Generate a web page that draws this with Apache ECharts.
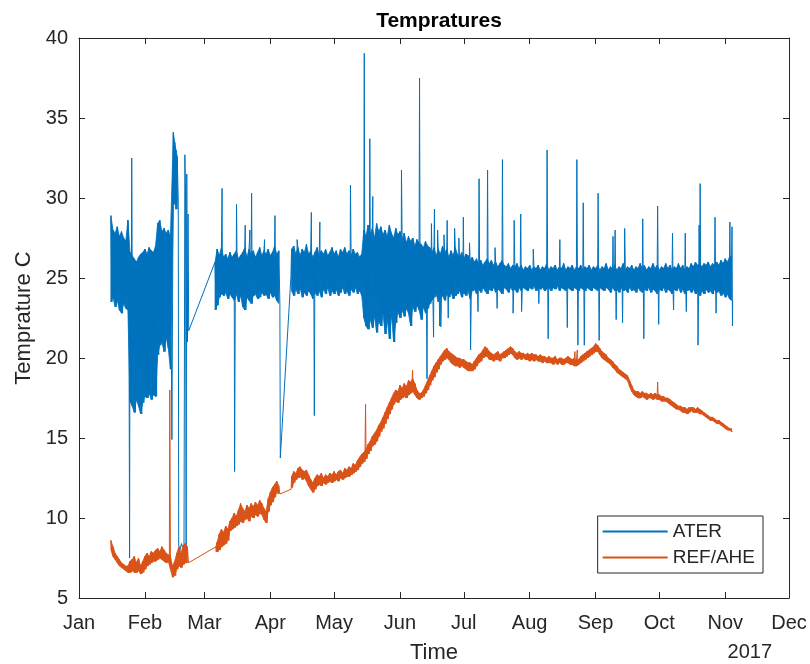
<!DOCTYPE html>
<html>
<head>
<meta charset="utf-8">
<script src="https://cdn.jsdelivr.net/npm/echarts@6/dist/echarts.min.js"></script>
<style>
html,body{margin:0;padding:0;background:#fff;}
#chart{width:810px;height:664px;}
</style>
</head>
<body>
<div id="chart"></div>
<script>
// ---- data (day of year 2017, 0 = Jan 1) ----
const monthNames = ['Jan','Feb','Mar','Apr','May','Jun','Jul','Aug','Sep','Oct','Nov','Dec'];
const yTicks = [5,10,15,20,25,30,35,40];
const seriesNames = ['ATER','REF/AHE'];

// ATER: [day, high, low] envelope readings of the noisy trace
const aterBand = [
[15,28.9,23.5],[16,28.0,23.8],[17,27.8,23.2],[18,28.2,23.6],[19,27.6,23.0],[20,27.9,22.8],[21,27.5,23.4],[22,27.3,23.1],[23,28.6,23.0],
[24,26.6,17.3],[25,26.4,17.0],[26,26.2,16.6],[27,26.0,17.4],[28,26.3,17.0],[29,26.5,16.5],[30,26.6,17.2],[31,26.8,17.6],[32,26.5,17.5],[33,26.9,17.8],[34,26.7,17.4],[35,26.6,17.7],[36,27.0,17.6],
[37,28.4,20.2],[38,28.6,20.8],[39,27.9,21.0],[40,28.1,20.4],[41,27.8,21.3],[42,28.0,20.6],[43,27.6,19.3],
[44.4,34.1,29.6],[45.0,33.5,30.0],[45.6,33.0,29.3],[46.2,32.6,29.8],
[64,26.0,23.0],[65,26.8,23.3],[66,26.4,23.8],[67,26.9,24.0],[68,26.3,23.9],[69,26.5,24.1],[70,26.2,23.7],[71,26.6,24.0],[72,26.3,23.8],[73,26.5,23.6],
[74,26.7,24.0],[75,26.2,23.5],[76,26.4,23.9],[77,26.6,23.2],[78,26.9,23.0],[79,26.3,23.8],[80,26.8,23.6],[81,26.5,23.4],[82,26.7,23.9],[83,26.3,24.0],
[84,26.6,23.7],[85,26.9,23.8],[86,26.4,24.1],[87,26.7,23.9],[88,26.5,24.0],[89,26.8,23.7],[90,26.4,24.1],[91,26.6,23.8],[92,27.0,23.9],[93,26.5,23.6],[94,26.7,23.4],
[100,26.8,24.2],[101,27.0,23.9],[102,26.5,24.3],[103,26.9,24.0],[104,26.4,24.4],[105,26.8,23.8],[106,26.6,24.1],[107,27.1,23.9],[108,26.5,24.2],[109,26.7,24.0],
[110,26.3,23.7],[111,26.6,24.1],[112,26.9,23.9],[113,26.4,24.2],[114,26.7,23.8],[115,26.5,24.3],[116,26.8,24.0],[117,26.4,24.4],[118,26.6,23.9],[119,26.9,24.2],
[120,26.5,24.0],[121,26.7,24.3],[122,26.3,23.9],[123,26.8,24.1],[124,26.6,24.4],[125,26.9,24.0],[126,26.5,24.2],[127,26.7,23.9],[128,26.4,24.3],[129,26.8,24.1],
[130,26.5,24.4],[131,26.6,24.0],[132,26.3,24.2],[133,26.5,23.9],
[134,28.0,22.5],[135,27.6,22.0],[136,28.3,21.8],[137,27.8,22.4],[138,28.1,21.9],[139,27.5,22.6],[140,28.4,21.6],[141,27.9,22.3],[142,28.2,22.0],[143,27.7,22.8],
[144,28.0,21.5],[145,27.6,22.4],[146,28.3,21.2],[147,27.8,22.7],[148,27.5,21.0],[149,28.1,22.2],[150,27.7,22.9],[151,27.9,22.5],[152,27.4,23.0],[153,27.8,22.6],
[154,27.2,23.1],[155,27.6,22.8],[156,27.3,22.0],[157,27.5,23.2],[158,27.0,22.9],[159,27.4,23.3],[160,27.2,23.0],[161,27.1,22.4],[162,26.9,23.2],[163,27.3,22.8],
[164,27.0,23.1],[165,26.9,23.4],
[166,26.6,23.6],[167,26.9,23.8],[168,26.4,24.0],[169,26.8,23.5],[170,26.5,23.7],[171,27.0,23.9],[172,26.6,23.6],[173,26.8,24.0],[174,26.3,23.8],[175,26.7,24.1],
[176,26.4,23.7],[177,26.9,23.9],[178,26.5,24.0],[179,26.3,24.2],[180,26.6,23.8],[181,26.2,24.1],[182,26.5,23.9],[183,26.4,24.2],[184,26.1,23.7],[185,26.3,24.2],
[186,26.0,24.3],[187,26.2,24.0],[188,25.9,24.3],[189,26.1,24.1],[190,25.8,24.4],[191,26.0,24.2],[192,26.2,24.0],[193,25.9,24.3],[194,26.1,24.2],[195,25.8,24.4],
[196,26.0,24.1],[197,25.7,24.3],[198,25.9,24.2],[199,26.1,24.0],[200,25.8,24.4],[201,25.7,24.3],[202,25.9,24.1],[203,25.6,24.4],[204,25.8,24.2],[205,25.7,24.3],
[206,25.9,24.1],[207,25.6,24.4],[208,25.8,24.2],[209,25.5,24.4],[210,25.7,24.3],[211,25.6,24.2],[212,25.8,24.4],[213,25.5,24.3],[214,25.7,24.5],[215,25.6,24.2],
[216,25.8,24.4],[217,25.5,24.3],[218,25.7,24.4],[219,25.6,24.2],[220,25.9,24.3],[221,25.5,24.4],[222,25.7,24.2],[223,25.6,24.4],[224,25.8,24.3],[225,25.5,24.5],
[226,25.7,24.2],[227,25.6,24.4],[228,25.9,24.3],[229,25.5,24.2],[230,25.7,24.4],[231,25.6,24.3],[232,25.8,24.2],[233,25.5,24.4],[234,25.7,24.3],[235,25.6,24.2],
[236,25.8,24.4],[237,25.5,24.3],[238,25.7,24.2],[239,25.6,24.4],[240,25.8,24.3],[241,25.5,24.2],[242,25.7,24.4],[243,25.6,24.3],[244,25.8,24.2],[245,25.5,24.4],
[246,25.7,24.3],[247,25.6,24.2],[248,25.9,24.4],[249,25.5,24.3],[250,25.7,24.1],[251,25.6,24.4],[252,25.8,24.2],[253,25.5,24.3],[254,25.7,24.1],[255,25.6,24.4],
[256,25.9,24.2],[257,25.5,24.3],[258,25.7,24.1],[259,25.6,24.4],[260,25.8,24.2],[261,25.5,24.3],[262,25.7,24.1],[263,25.6,24.4],[264,25.9,24.2],[265,25.6,24.1],
[266,25.8,24.3],[267,25.5,24.2],[268,25.7,24.4],[269,25.6,24.1],[270,25.9,24.3],[271,25.6,24.2],[272,25.8,24.0],[273,25.5,24.3],[274,25.7,24.2],[275,25.6,24.4],
[276,25.9,24.1],[277,25.6,24.3],[278,25.8,24.2],[279,25.5,24.0],[280,25.7,24.3],[281,25.6,24.2],[282,25.9,24.4],[283,25.6,24.1],[284,25.8,24.3],[285,25.5,24.0],
[286,25.7,24.2],[287,25.6,24.3],[288,25.9,24.1],[289,25.7,24.3],[290,26.0,24.0],[291,25.8,24.2],[292,25.9,23.9],[293,25.7,24.2],[294,25.9,24.0],[295,25.8,24.3],
[296,26.0,24.1],[297,25.7,24.2],[298,25.9,24.0],[299,25.8,24.3],[300,26.0,24.1],[301,25.8,24.2],[302,26.1,23.9],[303,25.9,24.1],[304,26.2,23.8],[305,26.0,24.0],
[306,26.3,23.7],[307,26.4,23.6]
];
// ATER: single readings (spikes, drops, gap ends) [day, value]
const aterPoints = [
[23.8,7.5],[24.8,32.5],[43.7,14.9],
[46.9,8.3],[47.5,8.0],[48.2,8.4],[48.8,8.1],[49.4,8.3],[49.8,32.7],[50.1,30.5],[50.4,8.2],[50.7,31.5],[51.0,21.0],[51.3,29.0],[51.6,21.7],
[67.3,30.6],[73.2,12.9],[74.1,29.6],[78.2,28.3],[80.4,28.0],[81.2,30.3],[87.3,27.4],[92.2,28.9],
[94.7,13.75],[99.7,25.1],
[102.6,27.4],[109.3,29.1],[110.7,16.4],[113.3,28.5],[127.7,30.8],
[134.2,39.05],[136.8,33.7],[138.2,30.1],[151.7,31.75],[160.2,37.5],[163.7,18.7],
[165.8,28.4],[166.8,21.3],[167.2,29.3],[168.7,28.0],[169.7,22.0],[170.2,21.95],[171.7,27.7],[173.2,28.6],[173.7,22.5],[176.7,28.1],[178.7,27.5],[180.8,28.8],
[183.7,27.2],[184.2,20.5],[187.7,22.9],[188.2,31.2],[192.2,31.75],[195.7,26.9],[196.7,23.1],[199.2,32.4],[204.2,22.8],[204.7,28.6],[207.8,29.0],[208.2,22.9],
[213.7,26.8],[216.3,23.4],[220.2,33.0],[220.7,21.2],[226.2,27.4],[229.7,21.9],[234.2,32.4],[234.7,20.8],[237.2,29.7],[237.7,20.8],[244.2,30.3],[244.7,21.1],
[251.2,27.6],[252.2,28.0],[252.7,22.4],[255.7,22.2],[256.7,28.1],[265.2,28.7],[265.7,21.2],[272.2,29.5],[272.7,22.1],[279.2,27.8],[279.7,23.0],[285.2,27.8],
[285.7,22.9],[291.2,20.8],[291.7,28.3],[292.2,30.9],[299.2,28.8],[299.7,22.8],[306.2,28.5],[307.2,28.2],[307.4,22.0]
];

// REF/AHE: [day, high, low]
const refBand = [
[15,8.6,8.0],[16,8.2,7.6],[17,7.8,7.4],[18,7.6,7.2],[19,7.4,7.0],[20,7.2,6.9],[21,7.1,6.8],[22,7.0,6.7],[23,7.0,6.6],[24,7.3,6.6],
[25,7.4,6.7],[26,7.6,6.6],[27,7.2,6.6],[28,7.5,6.7],[29,7.0,6.5],[30,7.3,6.6],[31,7.6,6.8],[32,7.8,7.0],[33,7.6,7.1],[34,7.9,7.2],
[35,7.8,7.3],[36,8.0,7.3],[37,8.1,7.4],[38,7.9,7.5],[39,8.2,7.4],[40,8.0,7.3],[41,7.8,7.2],[42,7.7,7.3],[43,7.6,6.8],[44,7.0,6.3],
[45,7.3,6.4],[46,7.8,6.8],[47,8.2,7.0],[48,7.8,6.9],[49,8.3,7.1],[50,8.4,7.2],[51,8.2,7.2],
[64.4,8.2,7.9],[65,8.5,7.9],[66,9.0,8.0],[67,9.3,8.2],[68,9.1,8.3],[69,9.5,8.4],[70,9.3,8.6],
[71,9.8,9.2],[72,10.0,9.3],[73,10.3,9.4],[74,10.1,9.5],[75,10.5,9.6],[76,10.9,9.8],[77,10.6,9.7],[78,10.4,9.9],[79,10.8,10.0],[80,10.6,9.8],
[81,10.9,10.1],[82,10.7,10.0],[83,11.0,10.2],[84,10.8,10.1],[85,11.1,10.3],[86,10.9,10.2],[87,10.6,9.9],[88,10.4,9.7],[89,11.2,10.4],[90,11.6,10.8],
[91,11.9,11.0],[92,12.1,11.3],[93,12.3,11.6],[94,12.0,11.5],
[100,12.6,11.9],[101,12.9,12.2],[102,12.8,12.4],[103,13.1,12.5],[104,13.2,12.6],[105,13.0,12.4],[106,12.9,12.5],[107,13.0,12.3],[108,12.7,12.0],[109,12.4,11.8],
[110,12.2,11.6],[111,12.5,11.8],[112,12.7,12.0],[113,12.6,12.1],[114,12.8,12.0],[115,12.5,12.2],[116,12.7,12.1],[117,12.6,12.2],[118,12.8,12.3],[119,12.7,12.2],
[120,12.9,12.3],[121,12.7,12.4],[122,12.9,12.3],[123,13.0,12.5],[124,12.8,12.4],[125,13.1,12.5],[126,13.0,12.6],[127,13.2,12.6],[128,13.1,12.7],[129,13.4,12.8],
[130,13.3,12.9],[131,13.6,13.0],[132,13.8,13.2],[133,14.0,13.4],[134,14.1,13.5],[135,14.3,13.7],[136,14.6,14.0],[137,14.8,14.2],[138,15.1,14.5],[139,15.3,14.6],
[140,15.5,14.8],[141,15.8,15.1],[142,16.0,15.4],[143,16.3,15.6],[144,16.6,15.9],[145,16.9,16.2],[146,17.2,16.5],[147,17.5,16.8],[148,17.8,17.1],[149,18.0,17.3],
[150,17.9,17.2],[151,18.3,17.4],[152,18.1,17.5],[153,18.4,17.6],[154,18.2,17.5],[155,18.6,17.7],[156,18.5,17.8],[157,18.7,17.9],[158,18.4,17.7],[159,18.0,17.5],
[160,17.8,17.4],[161,17.8,17.5],[162,18.0,17.6],[163,18.3,17.8],[164,18.6,18.0],[165,18.9,18.3],[166,19.2,18.6],[167,19.5,18.8],[168,19.7,19.1],[169,19.9,19.3],
[170,20.1,19.6],[171,20.3,19.8],[172,20.5,19.9],[173,20.6,20.0],[174,20.4,19.9],[175,20.3,19.7],[176,20.2,19.6],[177,20.1,19.5],[178,20.0,19.5],[179,20.0,19.4],
[180,19.9,19.5],[181,19.9,19.4],[182,19.8,19.3],[183,19.7,19.2],[184,19.7,19.2],[185,19.6,19.2],[186,19.8,19.3],[187,20.0,19.5],[188,20.2,19.7],[189,20.3,19.8],
[190,20.5,20.0],[191,20.7,20.1],[192,20.6,20.1],[193,20.4,19.9],[194,20.3,19.9],[195,20.2,19.8],[196,20.3,19.9],[197,20.4,19.9],[198,20.2,19.8],[199,20.3,20.0],
[200,20.4,20.0],[201,20.5,20.1],[202,20.6,20.2],[203,20.7,20.3],[204,20.6,20.2],[205,20.4,20.0],[206,20.3,19.9],[207,20.4,20.0],[208,20.3,19.9],[209,20.3,20.0],
[210,20.2,19.9],[211,20.3,19.9],[212,20.2,19.8],[213,20.3,19.9],[214,20.2,19.8],[215,20.2,19.9],[216,20.1,19.8],[217,20.2,19.8],[218,20.1,19.7],[219,20.1,19.8],
[220,20.0,19.7],[221,20.1,19.7],[222,20.0,19.7],[223,20.0,19.6],[224,20.1,19.7],[225,19.9,19.6],[226,20.0,19.7],[227,20.0,19.6],[228,19.9,19.6],[229,20.0,19.7],
[230,20.1,19.7],[231,20.0,19.6],[232,19.9,19.6],[233,20.0,19.5],[234,19.8,19.5],[235,19.9,19.6],[236,20.1,19.7],[237,20.2,19.8],[238,20.3,19.9],[239,20.4,20.0],
[240,20.5,20.1],[241,20.6,20.2],[242,20.7,20.3],[243,20.9,20.4],[244,20.8,20.4],[245,20.6,20.2],[246,20.4,20.0],[247,20.3,19.9],[248,20.2,19.8],[249,20.0,19.7],
[250,19.9,19.6],[251,19.8,19.4],[252,19.6,19.3],[253,19.5,19.1],[254,19.3,19.0],[255,19.2,18.9],[256,19.1,18.8],[257,19.0,18.7],[258,18.9,18.6],[259,18.6,18.2],
[260,18.3,17.9],[261,18.0,17.7],[262,17.9,17.6],[263,17.9,17.5],[264,17.8,17.5],[265,17.9,17.6],[266,17.8,17.5],[267,17.8,17.4],[268,17.7,17.5],[269,17.8,17.5],
[270,17.7,17.4],[271,17.8,17.5],[272,17.7,17.4],[273,17.7,17.4],[274,17.6,17.3],[275,17.6,17.3],[276,17.5,17.3],[277,17.5,17.2],[278,17.4,17.1],[279,17.3,17.0],
[280,17.2,16.9],[281,17.1,16.8],[282,17.0,16.8],[283,17.0,16.7],[284,16.9,16.6],[285,16.9,16.6],[286,16.8,16.5],[287,16.9,16.6],[288,16.9,16.7],[289,16.9,16.6],
[290,16.8,16.6],[291,16.9,16.6],[292,16.8,16.5],[293,16.7,16.5],[294,16.6,16.4],[295,16.5,16.3],[296,16.4,16.2],[297,16.3,16.1],[298,16.3,16.1],[299,16.2,16.0],
[300,16.1,15.9],[301,16.1,15.9],[302,16.0,15.8],[303,15.9,15.7],[304,15.8,15.6],[305,15.7,15.5],[306,15.6,15.5],[307,15.6,15.4]
];
const refPoints = [
[42.7,18.0],[99.8,11.8],[134.8,17.1],[156.9,19.25],[233.3,20.4],[234.4,20.5],[272.2,18.5]
];

// ---- build series data ----
const START = Date.UTC(2017,0,1);
const DAY = 86400000;
function ts(d){ return START + d*DAY; }
function build(band, pts){
  const out = [];
  band.forEach(r => { out.push([r[0], r[1]]); out.push([r[0]+0.5, r[2]]); });
  pts.forEach(p => out.push([p[0], p[1]]));
  out.sort((a,b) => a[0]-b[0]);
  return out.map(p => [ts(p[0]), p[1]]);
}
// consecutive band rows (no data gap) -> one filled cell each
function bandCells(band){
  const cells = [];
  for (let i = 0; i < band.length - 1; i++) {
    const a = band[i], b = band[i+1];
    if (b[0] - a[0] <= 1.5) cells.push([ts(a[0]), a[1], a[2], ts(b[0]), b[1], b[2]]);
  }
  return cells;
}
function bandRender(color){
  return function(params, api){
    const p1 = api.coord([api.value(0), api.value(1)]);
    const p2 = api.coord([api.value(3), api.value(4)]);
    const p3 = api.coord([api.value(3), api.value(5)]);
    const p4 = api.coord([api.value(0), api.value(2)]);
    return {type: 'polygon', shape: {points: [p1, p2, p3, p4]},
      style: {fill: color, stroke: color, lineWidth: 0.8}};
  };
}
const monthTs = monthNames.map((m,i) => Date.UTC(2017,i,1));
function monthLabel(v){
  const i = monthTs.indexOf(v);
  return i >= 0 ? monthNames[i] : '';
}

const FONT = 'Liberation Sans, Arial, Helvetica, sans-serif';
const AX = '#262626';
const BLUE = '#0072BD', ORANGE = '#D95319';

const chart = echarts.init(document.getElementById('chart'), null, {renderer:'canvas'});
const xCommon = {
  type: 'value', min: monthTs[0], max: monthTs[11], scale: true,
  splitLine: {show: false}
};
const option = {
  animation: false,
  backgroundColor: '#fff',
  title: {
    text: 'Tempratures', left: 434, top: 6, textAlign: 'center',
    textStyle: {fontFamily: FONT, fontSize: 21, fontWeight: 'bold', color: '#000'}
  },
  grid: {left: 79, right: 21, top: 38, bottom: 66, containLabel: false, outerBoundsMode: 'none'},
  legend: {
    data: seriesNames, orient: 'vertical', right: 47, bottom: 91,
    icon: 'rect', itemWidth: 65, itemHeight: 2, itemGap: 7,
    padding: [6, 8, 6, 5],
    borderColor: AX, borderWidth: 1, backgroundColor: '#fff',
    textStyle: {fontFamily: FONT, fontSize: 19, color: AX}
  },
  xAxis: [Object.assign({}, xCommon, {
    name: 'Time', nameLocation: 'middle', nameGap: 44,
    nameTextStyle: {fontFamily: FONT, fontSize: 22, color: AX},
    axisLine: {show: true, onZero: false, lineStyle: {color: AX, width: 1}},
    axisTick: {show: true, inside: true, length: 6, customValues: monthTs, lineStyle: {color: AX}},
    axisLabel: {show: true, customValues: monthTs, margin: 15, fontFamily: FONT, fontSize: 20, color: AX,
      formatter: monthLabel}
  }), Object.assign({}, xCommon, {
    position: 'top',
    axisLine: {show: true, onZero: false, lineStyle: {color: AX, width: 1}},
    axisTick: {show: true, inside: true, length: 6, customValues: monthTs, lineStyle: {color: AX}},
    axisLabel: {show: false}
  })],
  yAxis: [{
    type: 'value', min: 5, max: 40, interval: 5,
    name: 'Temprature C', nameLocation: 'middle', nameGap: 35, nameRotate: 90,
    nameTextStyle: {fontFamily: FONT, fontSize: 22, color: AX},
    axisLine: {show: true, onZero: false, lineStyle: {color: AX, width: 1}},
    axisTick: {show: true, inside: true, length: 6, lineStyle: {color: AX}},
    axisLabel: {margin: 11, fontFamily: FONT, fontSize: 20, color: AX,
      formatter: v => (yTicks.indexOf(v) >= 0 ? String(v) : '')},
    splitLine: {show: false}
  },{
    type: 'value', position: 'right', min: 5, max: 40, interval: 5,
    axisLine: {show: true, onZero: false, lineStyle: {color: AX, width: 1}},
    axisTick: {show: true, inside: true, length: 6, lineStyle: {color: AX}},
    axisLabel: {show: false},
    splitLine: {show: false}
  }],
  graphic: [{
    type: 'text', right: 38, top: 642,
    style: {text: '2017', font: '20px ' + FONT, fill: AX}
  }],
  series: [{
    name: 'ATER band', type: 'custom', silent: true, z: 1,
    data: bandCells(aterBand), renderItem: bandRender(BLUE),
    encode: {x: [0, 3], y: [1, 2, 4, 5]}
  },{
    name: seriesNames[0], type: 'line', data: build(aterBand, aterPoints),
    symbol: 'none', showSymbol: false,
    lineStyle: {color: BLUE, width: 1, join: 'bevel'},
    itemStyle: {color: BLUE}, z: 2
  },{
    name: 'REF band', type: 'custom', silent: true, z: 3,
    data: bandCells(refBand), renderItem: bandRender(ORANGE),
    encode: {x: [0, 3], y: [1, 2, 4, 5]}
  },{
    name: seriesNames[1], type: 'line', data: build(refBand, refPoints),
    symbol: 'none', showSymbol: false,
    lineStyle: {color: ORANGE, width: 1, join: 'bevel'},
    itemStyle: {color: ORANGE}, z: 4
  }]
};
chart.setOption(option);
</script>
</body>
</html>
